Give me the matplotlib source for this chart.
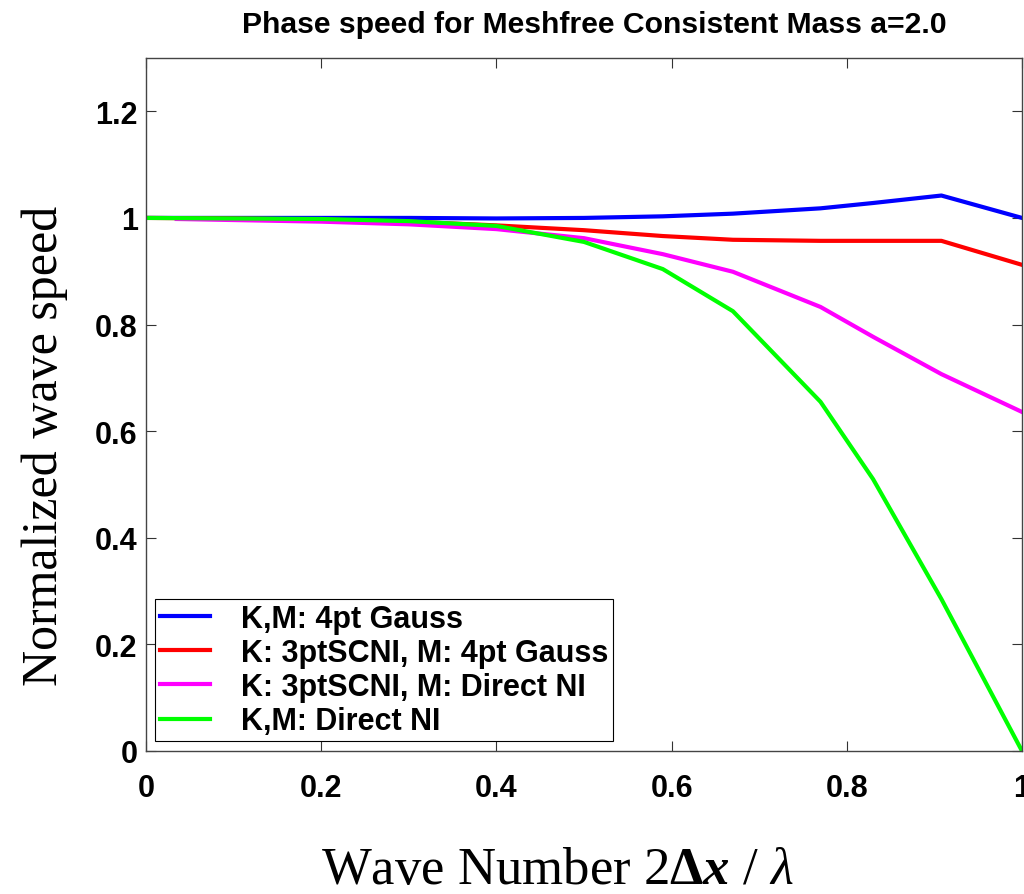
import numpy as np
import matplotlib
matplotlib.use("Agg")
import matplotlib.pyplot as plt

# wave number samples (2 dx / lambda)
wave_num = [0.0, 0.1, 0.2, 0.3, 0.4, 0.5, 0.59, 0.67, 0.77, 0.83, 0.908, 1.0]
wave_num_m = [0.035, 0.1, 0.2, 0.3, 0.4, 0.5, 0.59, 0.67, 0.77, 0.83, 0.908, 1.0]

# normalized wave speed for each integration scheme
gauss_4pt = [1.0, 1.0, 1.0, 1.0, 0.999, 1.0, 1.003, 1.008, 1.018, 1.028, 1.042, 1.0]
scni_gauss = [1.0, 0.999, 0.997, 0.993, 0.986, 0.977, 0.966, 0.959, 0.957, 0.957, 0.957, 0.912]
scni_direct = [0.998, 0.996, 0.993, 0.988, 0.979, 0.962, 0.932, 0.899, 0.833, 0.777, 0.707, 0.636]
direct_ni = [1.0, 0.999, 0.998, 0.994, 0.985, 0.955, 0.904, 0.825, 0.655, 0.51, 0.285, 0.0]

labels = ["K,M: 4pt Gauss", "K: 3ptSCNI, M: 4pt Gauss",
          "K: 3ptSCNI, M: Direct NI", "K,M: Direct NI"]
colors = ["#0000ff", "#ff0000", "#ff00ff", "#00ff00"]

plt.rcParams['font.family'] = 'Liberation Sans'
plt.rcParams['font.weight'] = 'bold'
plt.rcParams['mathtext.fontset'] = 'custom'
plt.rcParams['mathtext.rm'] = 'Liberation Serif:normal'
plt.rcParams['mathtext.it'] = 'Liberation Serif:italic:normal'
plt.rcParams['mathtext.bf'] = 'Liberation Serif:bold'
plt.rcParams['mathtext.bfit'] = 'Liberation Serif:bold:italic'

W, H = 1024, 895
fig = plt.figure(figsize=(W/100, H/100), dpi=100)
ax = fig.add_axes([146/W, 1 - 752/H, 876/W, (752 - 59)/H])

ax.plot(wave_num, gauss_4pt, color=colors[0], lw=3, label=labels[0])
ax.plot(wave_num, scni_gauss, color=colors[1], lw=3, label=labels[1])
ax.plot(wave_num_m, scni_direct, color=colors[2], lw=3, label=labels[2])
ax.plot(wave_num, direct_ni, color=colors[3], lw=3, label=labels[3])

ax.set_xlim(0, 1)
ax.set_ylim(0, 1.3)
ax.set_xticks([0, 0.2, 0.4, 0.6, 0.8, 1])
ax.set_xticklabels(["0", "0.2", "0.4", "0.6", "0.8", "1"])
ax.set_yticks([0, 0.2, 0.4, 0.6, 0.8, 1, 1.2])
ax.set_yticklabels(["0", "0.2", "0.4", "0.6", "0.8", "1", "1.2"])
ax.tick_params(direction='in', length=7, width=0.8, top=True, right=True,
               labelsize=22, color='#333333')
ax.tick_params(axis='x', pad=16)
ax.tick_params(axis='y', pad=6)
for s in ax.spines.values():
    s.set_color('#444444')
    s.set_linewidth(1.0)

fig.text(594/W, 1 - 33/H, "Phase speed for Meshfree Consistent Mass a=2.0",
         fontsize=21.7, fontweight='bold', ha='center', va='baseline')

ax.set_ylabel("Normalized wave speed", family='Liberation Serif',
              fontweight='normal', fontsize=36)
ax.yaxis.set_label_coords((68 - 146)/876, (752 - 446)/693)

fig.text(557/W, 1 - 884/H,
         r"Wave Number 2$\mathbf{\Delta}\mathbfit{x}$ / $\mathit{\lambda}$",
         family='Liberation Serif', fontweight='normal', fontsize=38,
         ha='center', va='baseline')

leg = ax.legend(loc='lower left', bbox_to_anchor=((155 - 146)/876, (752 - 742)/693),
                fontsize=22, fancybox=False, framealpha=1, edgecolor='black',
                handlelength=1.65, labelspacing=0.14, borderpad=0.15,
                handletextpad=1.0, borderaxespad=0)
leg.get_frame().set_linewidth(0.8)

fig.savefig("out.png", dpi=100)
